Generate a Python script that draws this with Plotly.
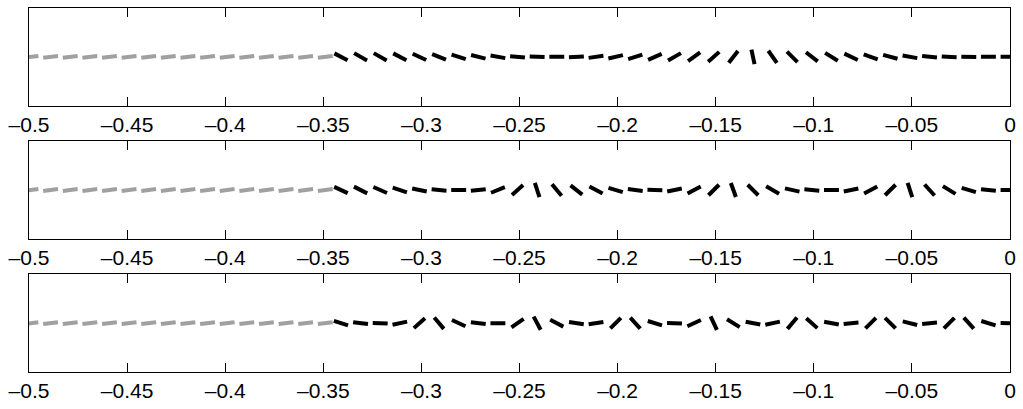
import plotly.graph_objects as go
import numpy as np

# ---- data ----
gray_x = [-0.499, -0.489, -0.479, -0.469, -0.459, -0.449, -0.439, -0.429,
          -0.419, -0.409, -0.399, -0.389, -0.379, -0.369, -0.359, -0.349]
gray_angle = 7  # degrees, same for all gray segments

black_x = [-0.341, -0.331, -0.321, -0.311, -0.301, -0.291, -0.281, -0.271,
           -0.261, -0.251, -0.241, -0.231, -0.221, -0.211, -0.201, -0.191,
           -0.181, -0.171, -0.161, -0.151, -0.141, -0.131, -0.121, -0.111,
           -0.101, -0.091, -0.081, -0.071, -0.061, -0.051, -0.041, -0.031,
           -0.021, -0.011, -0.001]

angles_p1 = [-28, -30, -30, -28, -25, -22, -18, -14, -10, -5, -2, 0, 3, 8, 13, 18,
             24, 30, 36, 42, 52, -78, -55, -45, -38, -32, -26, -20, -15, -10, -6, -3,
             -1, 0, 0]
angles_p2 = [-25, -27, -24, -18, -12, -5, 0, 6, 22, 42, -72, -50, -38, -28, -17, -7,
             -1, 12, 28, 45, -70, -45, -30, -13, -5, 0, 12, 28, 45, -72, -48, -32,
             -17, -6, 0]
angles_p3 = [-18, -7, -2, 12, 42, -50, -25, -7, 0, 35, -62, -28, -9, 9, 45, -48,
             -17, -2, 25, -65, -32, -11, 12, 50, -42, -11, 6, 45, -45, -14, 6, 45,
             -48, -17, -2]

tick_vals = [-0.5, -0.45, -0.4, -0.35, -0.3, -0.25, -0.2, -0.15, -0.1, -0.05, 0]
tick_text = ["\u20130.5", "\u20130.45", "\u20130.4", "\u20130.35", "\u20130.3",
             "\u20130.25", "\u20130.2", "\u20130.15", "\u20130.1", "\u20130.05", "0"]

# ---- layout geometry ----
W, H = 1023, 409
ML, MR, MT, MB = 29, 8, 7, 33
plot_w = W - ML - MR
plot_h = H - MT - MB
domains = [[0.7317, 1.0], [0.3659, 0.6341], [0.0, 0.2683]]
XR = [-0.5, 0.0]
YR = [-1.0, 1.0]
SEG_PX = 15.0  # segment length in pixels


def segments(xs, angs, dom):
    px_x = plot_w / (XR[1] - XR[0])
    px_y = plot_h * (dom[1] - dom[0]) / (YR[1] - YR[0])
    h = SEG_PX / 2
    sx, sy = [], []
    for x, a in zip(xs, angs):
        t = np.deg2rad(a)
        dx = h * np.cos(t) / px_x
        dy = h * np.sin(t) / px_y
        sx += [x - dx, x + dx, None]
        sy += [-dy, dy, None]
    return sx, sy


fig = go.Figure()
all_angles = [angles_p1, angles_p2, angles_p3]
for i, (angs, dom) in enumerate(zip(all_angles, domains)):
    n = "" if i == 0 else str(i + 1)
    gx, gy = segments(gray_x, [gray_angle] * len(gray_x), dom)
    bx, by = segments(black_x, angs, dom)
    fig.add_trace(go.Scatter(x=gx, y=gy, mode="lines",
                             line=dict(color="rgb(160,160,160)", width=4),
                             xaxis="x" + n, yaxis="y" + n, hoverinfo="skip"))
    fig.add_trace(go.Scatter(x=bx, y=by, mode="lines",
                             line=dict(color="black", width=4),
                             xaxis="x" + n, yaxis="y" + n, hoverinfo="skip"))
    fig.layout["xaxis" + n] = dict(
        domain=[0, 1], range=XR, anchor="y" + n,
        tickvals=tick_vals, ticktext=tick_text,
        ticks="inside", ticklen=9, tickwidth=1, tickcolor="black",
        showline=True, linecolor="black", linewidth=1, mirror="ticks",
        showgrid=False, zeroline=False,
        tickfont=dict(family="Liberation Sans, Arial, sans-serif", size=21, color="black"),
    )
    fig.layout["yaxis" + n] = dict(
        domain=dom, range=YR, anchor="x" + n,
        showticklabels=False, ticks="",
        showline=True, linecolor="black", linewidth=1, mirror=True,
        showgrid=False, zeroline=False, fixedrange=True,
    )

fig.update_layout(
    width=W, height=H,
    margin=dict(l=ML, r=MR, t=MT, b=MB),
    paper_bgcolor="white", plot_bgcolor="white",
    showlegend=False,
)

fig.write_html("out.html")
